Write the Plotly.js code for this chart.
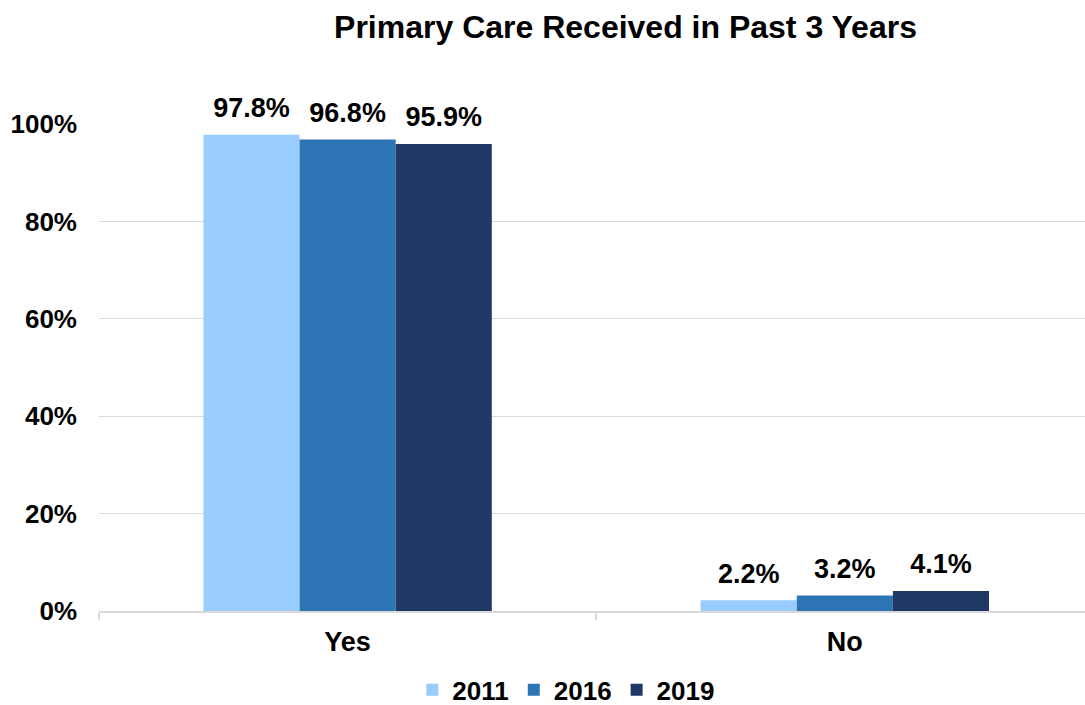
<!DOCTYPE html>
<html>
<head>
<meta charset="utf-8">
<script src="https://cdn.plot.ly/plotly-3.0.1.min.js"></script>
<style>html,body{margin:0;padding:0;background:#fff;}#chart{width:1085px;height:705px;}</style>
</head>
<body>
<div id="chart"></div>
<script>
const categories = ["Yes", "No"];
const years = ["2011", "2016", "2019"];
const values2011 = [0.978, 0.022];
const values2016 = [0.968, 0.032];
const values2019 = [0.959, 0.041];
const labels2011 = ["97.8%", "2.2%"];
const labels2016 = ["96.8%", "3.2%"];
const labels2019 = ["95.9%", "4.1%"];
const colors = ["#99CCFF", "#2E75B6", "#203864"];

const series = [values2011, values2016, values2019];
const labels = [labels2011, labels2016, labels2019];
const font = "Liberation Sans, Arial, sans-serif";

const bars = years.map((y, i) => ({
  type: "bar",
  name: y,
  x: categories,
  y: series[i],
  marker: {color: colors[i]},
  hoverinfo: "none"
}));

const texts = years.map((y, i) => ({
  type: "scatter",
  mode: "markers+text",
  name: y + " labels",
  showlegend: false,
  x: categories,
  y: series[i],
  text: labels[i],
  textposition: "top center",
  textfont: {family: font, size: 27, color: "#000", weight: "bold"},
  marker: {size: 16, color: "rgba(0,0,0,0)"},
  cliponaxis: false,
  hoverinfo: "none"
}));

const layout = {
  width: 1085, height: 705,
  margin: {l: 99, r: 0, t: 124, b: 94, autoexpand: false},
  paper_bgcolor: "#fff", plot_bgcolor: "#fff",
  barmode: "group",
  bargap: 0.42,
  bargroupgap: 0,
  scattermode: "group",
  scattergap: 0.42,
  title: {
    text: "<b>Primary Care Received in Past 3 Years</b>",
    font: {family: font, size: 32, color: "#000"},
    x: 0.5765, xanchor: "center", y: 0.962, yanchor: "middle"
  },
  xaxis: {
    range: [-0.5, 1.483],
    tickson: "boundaries",
    ticks: "outside", ticklen: 7, tickcolor: "#d9d9d9", tickwidth: 1.5,
    showline: true, linecolor: "#d9d9d9", linewidth: 1.5,
    tickfont: {family: font, size: 27, color: "#000", weight: "bold"},
    ticklabelstandoff: 6,
    automargin: false,
    fixedrange: true
  },
  yaxis: {
    range: [0, 1.0],
    tickvals: [0, 0.2, 0.4, 0.6, 0.8, 1.0],
    tickformat: ".0%",
    showgrid: true, gridcolor: "#d9d9d9", gridwidth: 1,
    zeroline: false, showline: false,
    tickfont: {family: font, size: 26, color: "#000", weight: "bold"},
    ticklabelstandoff: 21,
    automargin: false,
    fixedrange: true
  },
  legend: {
    orientation: "h",
    x: 0.474, xanchor: "center",
    y: -0.162, yanchor: "middle",
    font: {family: font, size: 26, color: "#000", weight: "bold"},
    itemwidth: 30,
    traceorder: "normal"
  },
  showlegend: true
};

Plotly.newPlot("chart", bars.concat(texts), layout, {displayModeBar: false, staticPlot: true});
</script>
</body>
</html>
